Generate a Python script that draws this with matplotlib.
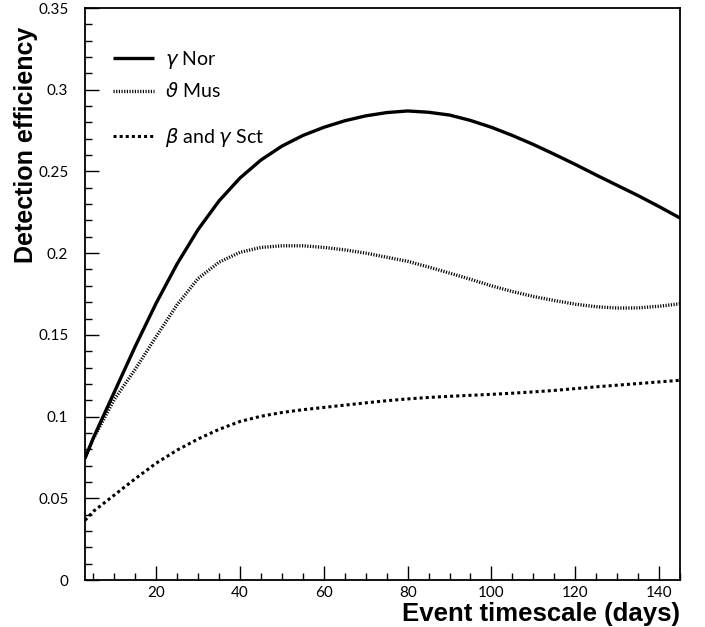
import matplotlib
matplotlib.use('Agg')
from matplotlib import pyplot as plt
from matplotlib.ticker import MultipleLocator, FixedLocator

# 事件时标 (天)
days = [3, 5, 10, 15, 20, 25, 30, 35, 40, 45, 50, 55, 60, 65, 70, 75,
        80, 85, 90, 95, 100, 105, 110, 115, 120, 125, 130, 135, 140, 145]

eff_nor = [0.0745, 0.087, 0.115, 0.143, 0.1695, 0.1935, 0.2145, 0.232,
           0.246, 0.257, 0.2655, 0.272, 0.277, 0.281, 0.284, 0.286, 0.287,
           0.2862, 0.2845, 0.2812, 0.277, 0.272, 0.2665, 0.2605, 0.2543,
           0.2478, 0.2415, 0.2352, 0.2285, 0.2215]

eff_mus = [0.0745, 0.0865, 0.1105, 0.129, 0.149, 0.1685, 0.1845, 0.1945,
           0.2005, 0.2035, 0.2045, 0.2045, 0.2035, 0.202, 0.200, 0.1975,
           0.195, 0.1915, 0.1878, 0.184, 0.180, 0.1765, 0.1735, 0.171,
           0.1688, 0.1672, 0.1664, 0.1665, 0.1675, 0.169]

eff_sct = [0.0365, 0.042, 0.052, 0.062, 0.0715, 0.0795, 0.0863, 0.0922,
           0.097, 0.1002, 0.1025, 0.1042, 0.1056, 0.107, 0.1084, 0.1097,
           0.1108, 0.1117, 0.1124, 0.113, 0.1136, 0.1143, 0.1151, 0.116,
           0.1171, 0.1182, 0.1192, 0.1202, 0.1212, 0.1222]

labels = [r'$\gamma$ Nor', r'$\vartheta$ Mus', r'$\beta$ and $\gamma$ Sct']

plt.rcParams['font.family'] = ['Lato', 'DejaVu Sans']
plt.rcParams['mathtext.fontset'] = 'dejavusans'

fig = plt.figure(figsize=(7.05, 6.27), dpi=100)
ax = fig.add_axes([85 / 705, 47 / 627, 595 / 705, 572 / 627])

l1, = ax.plot(days, eff_nor, color='black', lw=2.4, solid_capstyle='butt')
l2, = ax.plot(days, eff_mus, color='black', lw=2.4,
              linestyle=(0, (0.35, 0.45)))
l3, = ax.plot(days, eff_sct, color='black', lw=2.2,
              linestyle=(0, (1.0, 1.0)))

ax.set_xlim(3, 145)
ax.set_ylim(0, 0.35)

ax.xaxis.set_major_locator(FixedLocator([20, 40, 60, 80, 100, 120, 140]))
ax.xaxis.set_minor_locator(MultipleLocator(5))
ax.set_yticks([0, 0.05, 0.1, 0.15, 0.2, 0.25, 0.3, 0.35])
ax.set_yticklabels(['0', '0.05', '0.1', '0.15', '0.2', '0.25', '0.3', '0.35'])
ax.yaxis.set_minor_locator(MultipleLocator(0.01))

ax.tick_params(which='both', direction='in', top=False, right=False,
               width=1, color='black')
ax.tick_params(which='major', length=10)
ax.tick_params(which='minor', length=5)
ax.tick_params(axis='x', labelsize=11, pad=4)
ax.tick_params(axis='y', labelsize=11, pad=12)
for s in ax.spines.values():
    s.set_linewidth(1.3)

# 图例 (两段, 第三行间距更大)
leg1 = ax.legend([l1, l2], labels[:2], loc='upper left',
                 bbox_to_anchor=(0.047, 0.929), frameon=False,
                 handlelength=2.1, handletextpad=0.6, labelspacing=0.55,
                 borderpad=0, borderaxespad=0, prop={'size': 14})
ax.add_artist(leg1)
leg2 = ax.legend([l3], labels[2:], loc='upper left',
                 bbox_to_anchor=(0.047, 0.794), frameon=False,
                 handlelength=2.1, handletextpad=0.6, borderpad=0,
                 borderaxespad=0, prop={'size': 14})

fig.text(26 / 705, 1 - 145 / 627, 'Detection efficiency', rotation=90,
         ha='center', va='center', fontsize=18, fontweight='bold',
         family=['Liberation Sans', 'DejaVu Sans'])
fig.text(680 / 705, 1 - 621 / 627, 'Event timescale (days)', ha='right',
         va='baseline', fontsize=18.5, fontweight='bold',
         family=['Liberation Sans', 'DejaVu Sans'])

plt.savefig('out.png', dpi=100)
